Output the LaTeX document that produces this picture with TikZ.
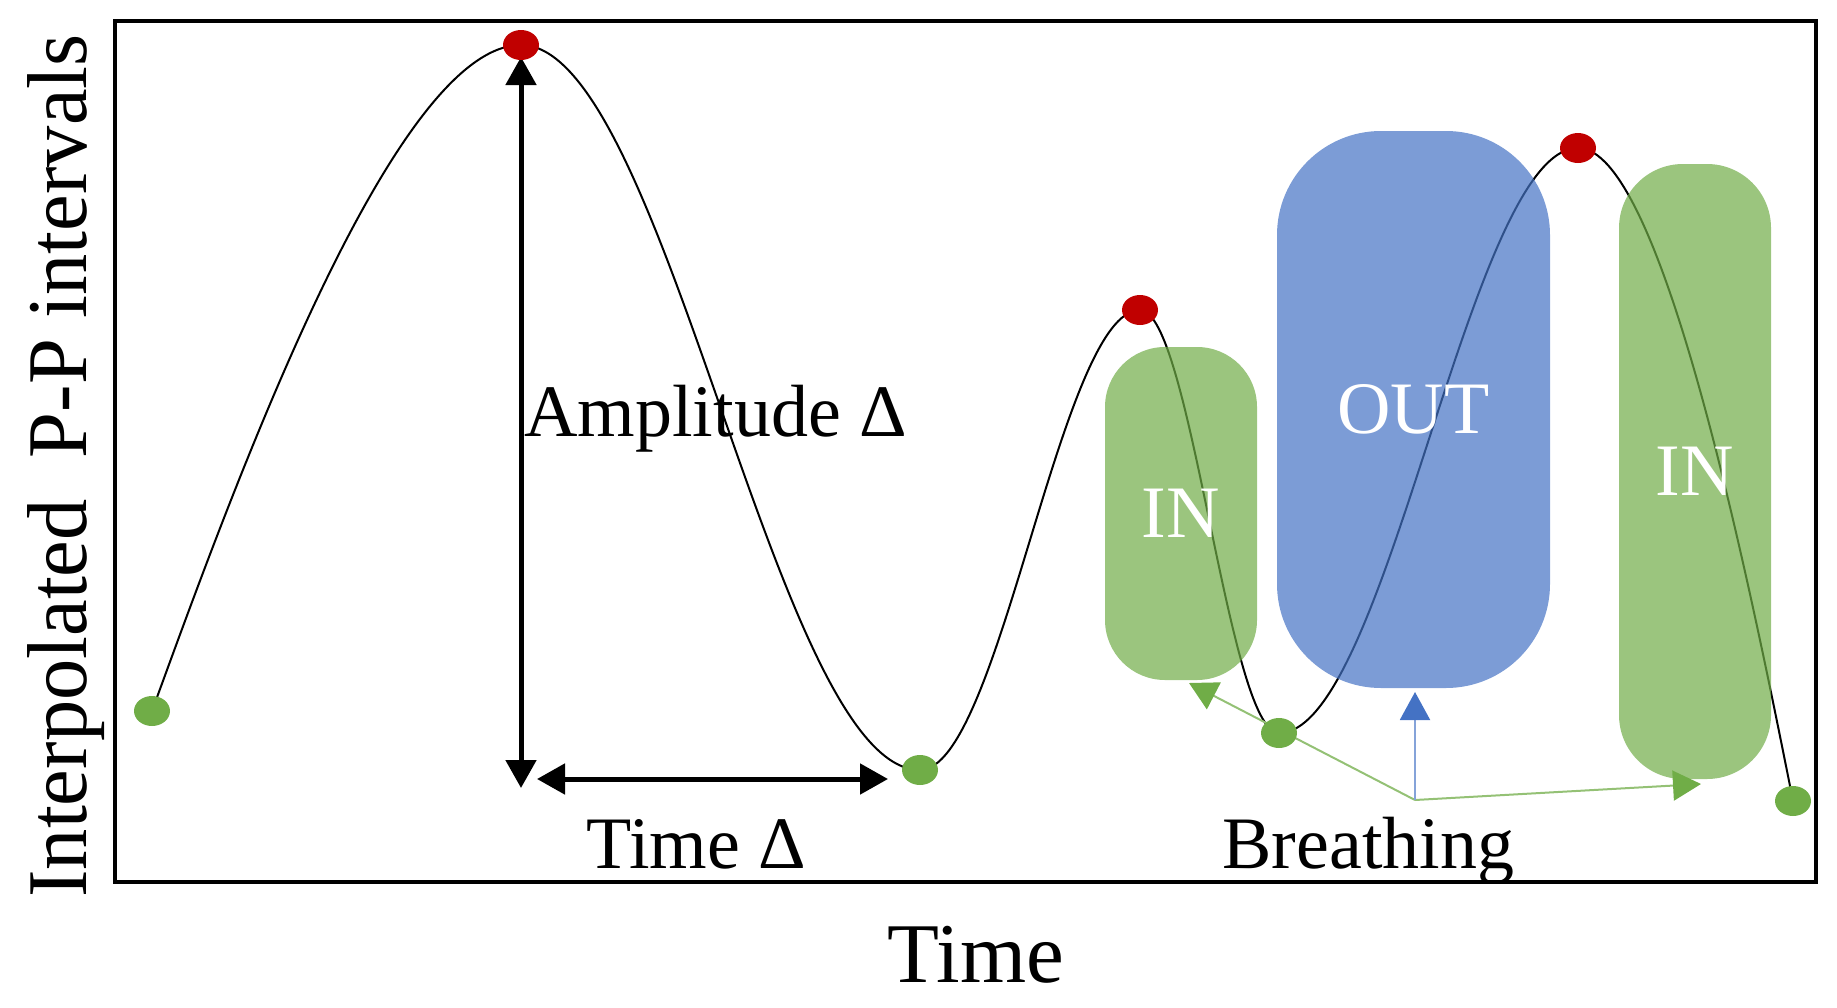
\documentclass[tikz,border=0pt]{standalone}
\usepackage{fontspec}
\setmainfont{Liberation Serif}
\usetikzlibrary{arrows.meta,shapes.geometric}
\definecolor{gr}{HTML}{70AD47}
\definecolor{bl}{HTML}{4472C4}
\definecolor{rd}{HTML}{C00000}
\tikzset{
  dotg/.style={ellipse,fill=gr,inner sep=0,minimum width=18pt,minimum height=15pt},
  dotr/.style={ellipse,fill=rd,inner sep=0,minimum width=18pt,minimum height=15pt},
  inbox/.style={rectangle,fill=gr,fill opacity=0.7,text opacity=1,text=white,inner sep=0,font=\fontsize{37}{44}\selectfont},
  outbox/.style={rectangle,fill=bl,fill opacity=0.7,text opacity=1,text=white,inner sep=0,font=\fontsize{37}{44}\selectfont},
  lbl/.style={inner sep=0,font=\fontsize{37}{44}\selectfont},
  axlbl/.style={inner sep=0,font=\fontsize{42.5}{50}\selectfont},
  dimarrow/.style={line width=2.5pt,{Triangle[length=14pt,width=15pt]}-{Triangle[length=14pt,width=15pt]}},
  breathg/.style={line width=1pt,draw=gr!75!white,-{Triangle[length=14pt,width=15pt,color=gr]}},
  breathb/.style={line width=1pt,draw=bl!65!white,-{Triangle[length=14pt,width=15pt,color=bl]}},
  curve/.style={line width=1pt,black}
}
\begin{document}
\begin{tikzpicture}[x=0.5pt,y=-0.5pt]
\useasboundingbox (0,0) rectangle (1837,1007);
% frame
\draw[line width=1.8pt] (115,21) rectangle (1816,882);
% curve anchor points
\coordinate (c0) at (152,711);
\coordinate (c1) at (521,45);
\coordinate (c2) at (920,770);
\coordinate (c3) at (1140,310);
\coordinate (c4) at (1279,733);
\coordinate (c5) at (1578,148);
\coordinate (c6) at (1793,801);
\draw[curve] (c0) .. controls (227,506) and (391,45) .. (c1)
  .. controls (666,45) and (775,770) .. (c2)
  .. controls (1000,770) and (1060,310) .. (c3)
  .. controls (1191,310) and (1228,733) .. (c4)
  .. controls (1388,733) and (1469,148) .. (c5)
  .. controls (1660,148) and (1745,560) .. (c6);
% breathing boxes
\node[inbox,minimum width=76pt,minimum height=166.5pt,rounded corners=30pt] (inL) at (1181,513.5) {IN};
\node[outbox,minimum width=136.5pt,minimum height=278.5pt,rounded corners=52pt] (out) at (1413.5,409.5) {OUT};
\node[inbox,minimum width=76pt,minimum height=307.5pt,rounded corners=32pt] (inR) at (1695,471.5) {IN};
% dimension arrows
\coordinate (ampT) at (521,57);
\coordinate (ampB) at (521,788);
\coordinate (tL) at (537,779);
\coordinate (tR) at (888,779);
\draw[dimarrow] (ampT) -- (ampB);
\draw[dimarrow] (tL) -- (tR);
% breathing arrows
\coordinate (bo) at (1415,800);
\coordinate (bL) at (1189,683);
\coordinate (bU) at (1415,692);
\coordinate (bR) at (1701,784);
\draw[breathg] (bo) -- (bL);
\draw[breathg] (bo) -- (bR);
\draw[breathb] (bo) -- (bU);
% dots
\node[dotg] (d0) at (c0) {};
\node[dotr] (d1) at (c1) {};
\node[dotg] (d2) at (c2) {};
\node[dotr] (d3) at (c3) {};
\node[dotg] (d4) at (c4) {};
\node[dotr] (d5) at (c5) {};
\node[dotg] (d6) at (c6) {};
% labels
\node[lbl,anchor=base west] (amp) at (524,436) {Amplitude Δ};
\node[lbl,anchor=base west] (tdel) at (586,868) {Time Δ};
\node[lbl,anchor=base west] (br) at (1222,868) {Breathing};
\node[axlbl,anchor=base] (xl) at (976,982) {Time};
\node[axlbl,anchor=base,rotate=90,xscale=0.97] (yl) at (86,466) {Interpolated\ \ P-P intervals};
\end{tikzpicture}
\end{document}
